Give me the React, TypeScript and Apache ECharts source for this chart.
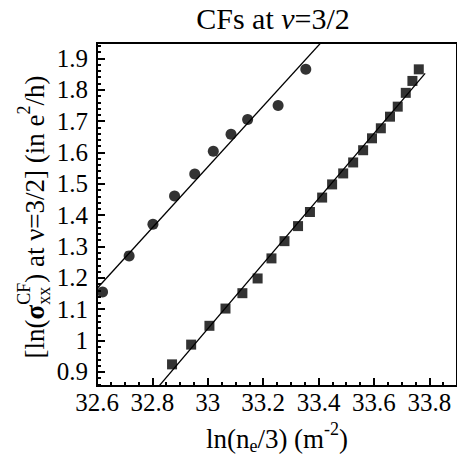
import React, { useEffect, useRef } from "react";
import * as echarts from "echarts";

const circleData: [number, number][] = [
  [32.62, 1.155], [32.716, 1.27], [32.802, 1.371], [32.88, 1.461], [32.953, 1.531],
  [33.02, 1.604], [33.084, 1.658], [33.144, 1.705], [33.254, 1.75], [33.354, 1.865],
];
const squareData: [number, number][] = [
  [32.871, 0.924], [32.94, 0.987], [33.006, 1.047], [33.064, 1.102], [33.125, 1.151],
  [33.18, 1.198], [33.23, 1.262], [33.277, 1.317], [33.326, 1.365], [33.369, 1.41],
  [33.413, 1.456], [33.449, 1.498], [33.489, 1.533], [33.525, 1.568], [33.561, 1.607],
  [33.593, 1.645], [33.625, 1.677], [33.658, 1.714], [33.686, 1.746], [33.715, 1.79],
  [33.739, 1.828], [33.762, 1.865],
];
const fitCircles: [number, number][] = [[32.6, 1.166], [33.45, 1.99]];
const fitSquares: [number, number][] = [[32.8, 0.83], [33.785, 1.852]];

const xMajor = [32.6, 32.8, 33, 33.2, 33.4, 33.6, 33.8];
const xMinor = [32.65, 32.7, 32.75, 32.85, 32.9, 32.95, 33.05, 33.1, 33.15, 33.25, 33.3, 33.35, 33.45, 33.5, 33.55, 33.65, 33.7, 33.75, 33.85];
const yMajor = [0.9, 1, 1.1, 1.2, 1.3, 1.4, 1.5, 1.6, 1.7, 1.8, 1.9];
const yMinor = [0.86, 0.88, 0.92, 0.94, 0.96, 0.98, 1.02, 1.04, 1.06, 1.08, 1.12, 1.14, 1.16, 1.18, 1.22, 1.24, 1.26, 1.28, 1.32, 1.34, 1.36, 1.38, 1.42, 1.44, 1.46, 1.48, 1.52, 1.54, 1.56, 1.58, 1.62, 1.64, 1.66, 1.68, 1.72, 1.74, 1.76, 1.78, 1.82, 1.84, 1.86, 1.88, 1.92, 1.94];

const FAMILY = "Liberation Serif";

type Piece = { t: string; size: number; dy?: number; stack?: boolean; italic?: boolean; bold?: boolean };

let ctx: CanvasRenderingContext2D | null = null;
function measure(p: Piece): number {
  if (!ctx) ctx = document.createElement("canvas").getContext("2d");
  if (!ctx) return p.t.length * p.size * 0.5;
  ctx.font = `${p.italic ? "italic " : ""}${p.bold ? "bold " : ""}${p.size}px "${FAMILY}"`;
  return ctx.measureText(p.t).width;
}

function compose(pieces: Piece[]) {
  const children: any[] = [];
  let x = 0;
  let prevStart = 0;
  let prevW = 0;
  pieces.forEach((p) => {
    const w = measure(p);
    let start: number;
    if (p.stack) {
      start = prevStart;
      x = prevStart + Math.max(prevW, w);
    } else {
      start = x;
      x += w;
    }
    prevStart = start;
    prevW = w;
    children.push({
      type: "text",
      x: start,
      y: p.dy || 0,
      style: {
        text: p.t,
        fontSize: p.size,
        fontFamily: FAMILY,
        fontStyle: p.italic ? "italic" : "normal",
        fontWeight: p.bold ? "bold" : "normal",
        fill: "#000",
        align: "left",
        textAlign: "left",
        verticalAlign: "middle",
        textVerticalAlign: "middle",
      },
    });
  });
  return { children, width: x };
}

function centeredGroup(pieces: Piece[], cx: number, cy: number, rotation = 0) {
  const { children, width } = compose(pieces);
  return {
    type: "group",
    x: cx,
    y: cy,
    rotation,
    children: [{ type: "group", x: -width / 2, y: 0, children }],
  };
}

export default function App() {
  const ref = useRef<HTMLDivElement>(null);
  useEffect(() => {
    if (!ref.current) return;
    const chart = echarts.init(ref.current, undefined, { renderer: "svg" });
    const labelStyle = { fontFamily: FAMILY, fontSize: 25, color: "#000" };
    const titlePieces: Piece[] = [
      { t: "CFs at ", size: 30 },
      { t: "ν", size: 30, italic: true },
      { t: "=3/2", size: 30 },
    ];
    const xTitle: Piece[] = [
      { t: "ln(n", size: 27 },
      { t: "e", size: 18, dy: 7 },
      { t: "/3) (m", size: 27 },
      { t: "-2", size: 18, dy: -10 },
      { t: ")", size: 27 },
    ];
    const yTitle: Piece[] = [
      { t: "[ln(", size: 27 },
      { t: "σ", size: 27, bold: true },
      { t: "CF", size: 18, dy: -11 },
      { t: "xx", size: 18, dy: 9, stack: true },
      { t: ") at ν=3/2] (in e", size: 27 },
      { t: "2", size: 18, dy: -11 },
      { t: "/h)", size: 27 },
    ];
    chart.setOption({
      animation: false,
      textStyle: { fontFamily: FAMILY },
      grid: {
        left: 97,
        top: 43,
        width: 361.8,
        height: 343,
        show: true,
        borderWidth: 2,
        borderColor: "#000",
        backgroundColor: "transparent",
        containLabel: false,
      },
      xAxis: [
        {
          type: "value",
          min: 32.6,
          max: 33.9,
          position: "bottom",
          axisLine: { show: true, onZero: false, lineStyle: { color: "#000", width: 2 } },
          axisTick: { show: true, inside: true, length: 8, customValues: xMajor, lineStyle: { color: "#000", width: 2 } },
          axisLabel: { show: true, customValues: xMajor, margin: 4, ...labelStyle },
          splitLine: { show: false },
        },
        {
          type: "value",
          min: 32.6,
          max: 33.9,
          position: "bottom",
          offset: 0,
          axisLine: { show: false, onZero: false },
          axisTick: { show: true, inside: true, length: 4, customValues: xMinor, lineStyle: { color: "#000", width: 2 } },
          axisLabel: { show: false },
          splitLine: { show: false },
        },
      ],
      yAxis: [
        {
          type: "value",
          min: 0.855,
          max: 1.949,
          position: "left",
          axisLine: { show: true, onZero: false, lineStyle: { color: "#000", width: 2 } },
          axisTick: { show: true, inside: true, length: 8, customValues: yMajor, lineStyle: { color: "#000", width: 2 } },
          axisLabel: { show: true, customValues: yMajor, margin: 9, ...labelStyle },
          splitLine: { show: false },
        },
        {
          type: "value",
          min: 0.855,
          max: 1.949,
          position: "left",
          offset: 0,
          axisLine: { show: false, onZero: false },
          axisTick: { show: true, inside: true, length: 4, customValues: yMinor, lineStyle: { color: "#000", width: 2 } },
          axisLabel: { show: false },
          splitLine: { show: false },
        },
      ],
      series: [
        {
          type: "line",
          data: fitCircles,
          showSymbol: false,
          symbol: "none",
          clip: true,
          lineStyle: { color: "#000", width: 1.3 },
          z: 2,
        },
        {
          type: "line",
          data: fitSquares,
          showSymbol: false,
          symbol: "none",
          clip: true,
          lineStyle: { color: "#000", width: 1.3 },
          z: 2,
        },
        {
          type: "scatter",
          data: circleData,
          symbol: "circle",
          symbolSize: 11,
          itemStyle: { color: "#000" },
          z: 3,
        },
        {
          type: "scatter",
          data: squareData,
          symbol: "rect",
          symbolSize: 10,
          itemStyle: { color: "#000" },
          z: 3,
        },
      ],
      graphic: [
        centeredGroup(titlePieces, 273, 18),
        centeredGroup(xTitle, 277, 439),
        centeredGroup(yTitle, 35, 217, Math.PI / 2),
      ],
    });
    return () => chart.dispose();
  }, []);
  return (
    <div
      ref={ref}
      style={{ position: "fixed", left: 0, top: 0, width: 457, height: 460, background: "#fff" }}
    />
  );
}
